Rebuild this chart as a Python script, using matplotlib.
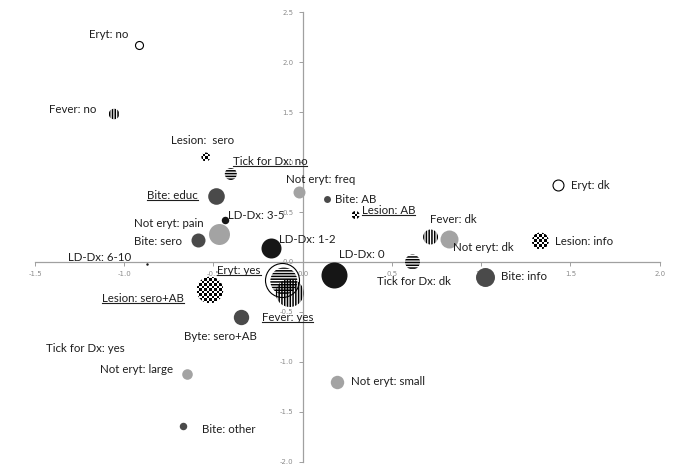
import numpy as np
import matplotlib
matplotlib.use("Agg")
import matplotlib.pyplot as plt
from matplotlib.patches import Circle
from matplotlib.lines import Line2D

# category points of the correspondence map
labels = [
    "Eryt: no", "Fever: no", "Lesion:  sero", "Tick for Dx: no", "Not eryt: freq",
    "Bite: AB", "Lesion: AB", "Bite: educ", "LD-Dx: 3-5", "Not eryt: pain",
    "Bite: sero", "LD-Dx: 1-2", "LD-Dx: 6-10", "LD-Dx: 0", "Tick for Dx: dk",
    "Fever: dk", "Not eryt: dk", "Bite: info", "Lesion: info", "Eryt: dk",
    "Not eryt: small", "Not eryt: large", "Bite: other", "Lesion: sero+AB",
    "Byte: sero+AB", "Eryt: yes", "Tick for Dx: yes", "Fever: yes",
]
dim1 = [
    -0.917, -1.057, -0.543, -0.403, -0.022,
    0.134, 0.296, -0.487, -0.436, -0.470,
    -0.587, -0.179, -0.872, 0.173, 0.615,
    0.716, 0.817, 1.023, 1.331, 1.432,
    0.190, -0.649, -0.671, -0.520,
    -0.347, -0.117, -0.106, -0.073,
]
dim2 = [
    2.17, 1.48, 1.05, 0.88, 0.70,
    0.63, 0.47, 0.66, 0.42, 0.28,
    0.22, 0.14, -0.02, -0.13, 0.00,
    0.25, 0.23, -0.15, 0.21, 0.77,
    -1.20, -1.12, -1.64, -0.28,
    -0.55, -0.18, -0.19, -0.31,
]
# bubble weights (area)
weight = [
    16, 28, 20, 36, 36,
    12, 16, 69, 14, 110,
    49, 100, 1.5, 169, 56,
    56, 81, 90, 72, 30,
    45, 28, 14, 177,
    59, 289, 182, 196,
]
underlined = {"Tick for Dx: no", "Bite: educ", "Lesion: AB", "Eryt: yes",
              "Lesion: sero+AB", "Fever: yes"}

# label placement: (dx, dy) in pixels, horizontal alignment
label_pos = {
    "Eryt: no": (-11, 11, "right"), "Fever: no": (-18, 5, "right"),
    "Lesion:  sero": (-3, 17, "center"), "Tick for Dx: no": (2, 13, "left"),
    "Not eryt: freq": (-13, 13, "left"), "Bite: AB": (8, 0, "left"),
    "Lesion: AB": (6, 5, "left"), "Bite: educ": (-18, 1, "right"),
    "LD-Dx: 3-5": (3, 5, "left"), "Not eryt: pain": (-15, 11, "right"),
    "Bite: sero": (-16, -1, "right"), "LD-Dx: 1-2": (8, 9, "left"),
    "LD-Dx: 6-10": (-16, 6, "right"), "LD-Dx: 0": (5, 20, "left"),
    "Tick for Dx: dk": (1, -20, "center"), "Fever: dk": (-1, 18, "left"),
    "Not eryt: dk": (4, -8, "left"), "Bite: info": (16, 0, "left"),
    "Lesion: info": (15, 0, "left"), "Eryt: dk": (13, 0, "left"),
    "Not eryt: small": (14, 0, "left"), "Not eryt: large": (-14, 4, "right"),
    "Bite: other": (19, -4, "left"), "Lesion: sero+AB": (-26, -9, "right"),
    "Byte: sero+AB": (-20, -20, "center"), "Eryt: yes": (-21, 9, "right"),
    "Tick for Dx: yes": (-159, -68, "right"), "Fever: yes": (-2, -25, "center"),
}


def kind_of(name):
    if name.startswith("Not eryt"):
        return "light"
    if name.startswith("Eryt"):
        return "open"
    if name.startswith("Fever"):
        return "vstripe"
    if name.startswith("Tick"):
        return "hstripe"
    if name.startswith("Lesion"):
        return "checker"
    if name.startswith("LD-Dx"):
        return "black"
    return "dark"


plt.rcParams["font.family"] = ["Lato", "DejaVu Sans"]
plt.rcParams["hatch.color"] = "black"
plt.rcParams["hatch.linewidth"] = 1.1

fig = plt.figure(figsize=(6.93, 4.75), dpi=100)
ax = fig.add_axes([0.0505, 0.0274, 0.9015, 0.9473])
ax.set_xlim(-1.5, 2.0)
ax.set_ylim(-2.0, 2.5)

for side in ("top", "right"):
    ax.spines[side].set_visible(False)
for side in ("left", "bottom"):
    ax.spines[side].set_position(("data", 0))
    ax.spines[side].set_color("#a0a0a0")
    ax.spines[side].set_linewidth(0.9)
ax.set_xticks(np.arange(-1.5, 2.01, 0.5))
ax.set_yticks(np.arange(-2.0, 2.51, 0.5))
ax.xaxis.set_major_formatter(plt.FormatStrFormatter("%.1f"))
ax.yaxis.set_major_formatter(plt.FormatStrFormatter("%.1f"))
ax.tick_params(colors="#a0a0a0", labelcolor="#8c8c8c", labelsize=5,
               length=3, width=0.7)
for lab in ax.get_xticklabels() + ax.get_yticklabels():
    lab.set_family("DejaVu Sans")

fills = {"light": "#a3a3a3", "dark": "#4a4a4a", "black": "#161616"}

for i, (name, x, y, w) in enumerate(zip(labels, dim1, dim2, weight)):
    kind = kind_of(name)
    s = 2.0736 * w
    z = 3 + i * 0.01
    if kind in fills:
        ax.scatter(x, y, s=s, c=fills[kind], linewidths=0, zorder=z)
    elif kind == "open":
        ax.scatter(x, y, s=s, facecolors="white", edgecolors="black",
                   linewidths=0.8, zorder=z)
    elif kind == "vstripe":
        ax.scatter(x, y, s=s, facecolors="none", edgecolors="black",
                   hatch="||||||", linewidths=0, zorder=z)
    elif kind == "hstripe":
        ax.scatter(x, y, s=s, facecolors="none", edgecolors="black",
                   hatch="------", linewidths=0, zorder=z)
    else:
        r = np.sqrt(w)
        cx, cy = ax.transData.transform((x, y))
        n = max(2, int(round(2 * r / 2.4)))
        board = np.indices((n, n)).sum(axis=0) % 2
        (x0, y0), (x1, y1) = ax.transData.inverted().transform(
            [(cx - r, cy - r), (cx + r, cy + r)])
        im = ax.imshow(board, cmap="gray", extent=(x0, x1, y0, y1),
                       interpolation="nearest", aspect="auto", zorder=z)
        im.set_clip_path(Circle((cx, cy), r, transform=None))

ax.set_xlim(-1.5, 2.0)
ax.set_ylim(-2.0, 2.5)

texts = []
for name, x, y in zip(labels, dim1, dim2):
    dx, dy, ha = label_pos[name]
    t = ax.annotate(name, (x, y), xytext=(dx, dy), textcoords="offset pixels",
                    ha=ha, va="center", fontsize=8.3, color="#1e1e1e", zorder=10)
    texts.append(t)

fig.canvas.draw()
renderer = fig.canvas.get_renderer()
inv = fig.transFigure.inverted()
for t in texts:
    if t.get_text() in underlined:
        bb = t.get_window_extent(renderer)
        (fx0, fy0), (fx1, _) = inv.transform([(bb.x0, bb.y0 + 1), (bb.x1, bb.y0)])
        fig.add_artist(Line2D([fx0, fx1], [fy0, fy0], transform=fig.transFigure,
                              color="#1e1e1e", linewidth=0.8))

fig.savefig("out.png", dpi=100)
